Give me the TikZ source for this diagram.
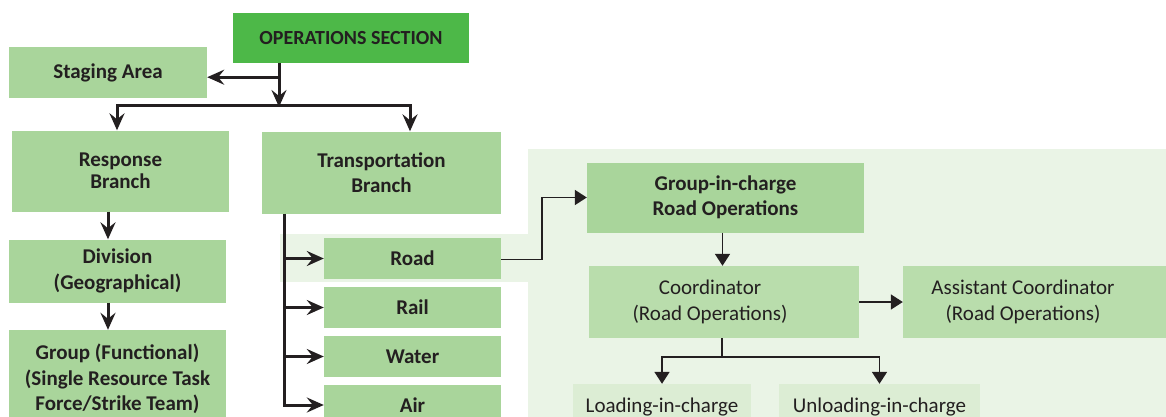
\documentclass[tikz,border=0pt]{standalone}
\usepackage{fontspec}
\setmainfont{Carlito}
\usetikzlibrary{arrows.meta,calc}
\definecolor{opsgreen}{HTML}{4DB848}
\definecolor{boxgreen}{HTML}{A9D59B}
\definecolor{coordgreen}{HTML}{B9DDAC}
\definecolor{paleboxgreen}{HTML}{DCEDD4}
\definecolor{panelgreen}{HTML}{EAF4E6}
\definecolor{ink}{HTML}{231F20}
\tikzset{
  box/.style={rectangle, fill=boxgreen, inner sep=0pt, align=center, text=ink,
    font=\fontsize{21}{25.5}\selectfont\bfseries},
  plainbox/.style={box, font=\fontsize{21}{25.5}\selectfont},
  arr/.style={draw=ink, line width=3pt, -{Stealth[length=17pt,width=15pt,inset=6pt]}},
  trunk/.style={draw=ink, line width=3pt},
  arrthin/.style={draw=ink, line width=1.8pt, -{Triangle[length=12pt,width=15pt]}},
  trunkthin/.style={draw=ink, line width=1.8pt},
}
\begin{document}
\begin{tikzpicture}[x=1pt,y=-1pt]
\useasboundingbox (0,0) rectangle (1166,417);
\clip (0,0) rectangle (1166,417);

% shaded panel behind the road operations chain
\fill[panelgreen] (528,149) rectangle (1170,420);
\fill[panelgreen] (280,234) rectangle (528,282);

% boxes
\node[box, fill=opsgreen, minimum width=236, minimum height=50, font=\fontsize{20}{24}\selectfont\bfseries] (ops) at (351,38) {OPERATIONS SECTION};
\node[box, minimum width=198, minimum height=51] (staging) at (108,72.5) {Staging Area};
\node[box, minimum width=217, minimum height=81, font=\fontsize{21}{22.5}\selectfont\bfseries] (resp) at (120.5,171) {Response\\Branch};
\node[box, minimum width=239, minimum height=82] (trans) at (381.5,172.5) {Transportation\\Branch};
\node[box, minimum width=217, minimum height=63] (div) at (117.5,271) {Division\\(Geographical)};
\node[box, minimum width=217, minimum height=98] (group) at (117.5,379) {Group (Functional)\\(Single Resource Task\\Force/Strike Team)};
\node[box, minimum width=177, minimum height=41] (road) at (412.5,258.5) {Road};
\node[box, minimum width=177, minimum height=41] (rail) at (412.5,307.5) {Rail};
\node[box, minimum width=177, minimum height=41] (water) at (412.5,356.5) {Water};
\node[box, minimum width=177, minimum height=40] (air) at (412.5,405) {Air};
\node[box, minimum width=277, minimum height=70] (grp) at (725.5,197.5) {Group-in-charge\\Road Operations};
% the coordinator text sits a little left of the box centre
\node[plainbox, fill=coordgreen, minimum width=270, minimum height=72] (coord) at (724,302) {\hspace*{-28pt}Coordinator\\\hspace*{-28pt}(Road Operations)};
\node[plainbox, fill=coordgreen, minimum width=240, minimum height=72] (asst) at (1023,302) {Assistant Coordinator\\(Road Operations)};
\fill[coordgreen] (asst.north east) rectangle ([xshift=30pt]asst.south east);
\node[plainbox, fill=paleboxgreen, minimum width=178, minimum height=46] (load) at (662,407) {Loading-in-charge};
\node[plainbox, fill=paleboxgreen, minimum width=201, minimum height=46] (unload) at (879.5,407) {Unloading-in-charge};

% top level connectors (page y grows downward here, so shifts down are negative)
\coordinate (sj) at ([yshift=-14pt]ops.south -| 279,0);
\coordinate (bar) at (279,106);
\draw[trunk] (ops.south -| bar) -- (sj);
\draw[arr] (sj) -- (sj -| staging.east);
\draw[arr, shorten >=-1pt] (sj) -- (bar);
\draw[arr] (bar) -| ([xshift=-3.5pt]resp.north);
\draw[arr] (bar) -| ([xshift=28.5pt]trans.north);

% response branch chain
\draw[arr] ([xshift=-12.5pt]resp.south) -- ([xshift=-12.5pt]resp.south |- div.north);
\draw[arr] ([xshift=-9.5pt]div.south) -- ([xshift=-9.5pt]div.south |- group.north);

% transportation branch modes
\coordinate (tv) at ([xshift=23pt]trans.south west);
\draw[trunk] (tv) |- ([xshift=-2pt]air.west -| tv);
\draw[arr] (road.west -| tv) -- (road.west);
\draw[arr] (rail.west -| tv) -- (rail.west);
\draw[arr] (water.west -| tv) -- (water.west);
\draw[arr] (air.west -| tv) -- (air.west);

% road operations chain
\draw[arrthin] ([yshift=-1pt]road.east) -- ++(41,0) |- (grp.west);
\draw[arrthin] ([xshift=-3pt]grp.south) -- ([xshift=-3pt]grp.south |- coord.north);
\draw[arrthin] (coord.east) -- (asst.west);
\coordinate (cj) at ([yshift=-19pt, xshift=-2pt]coord.south);
\draw[trunkthin] ([xshift=-2pt]coord.south) -- (cj);
\draw[arrthin] (cj) -| (load.north);
\draw[arrthin] (cj) -| (unload.north);
\end{tikzpicture}
\end{document}
